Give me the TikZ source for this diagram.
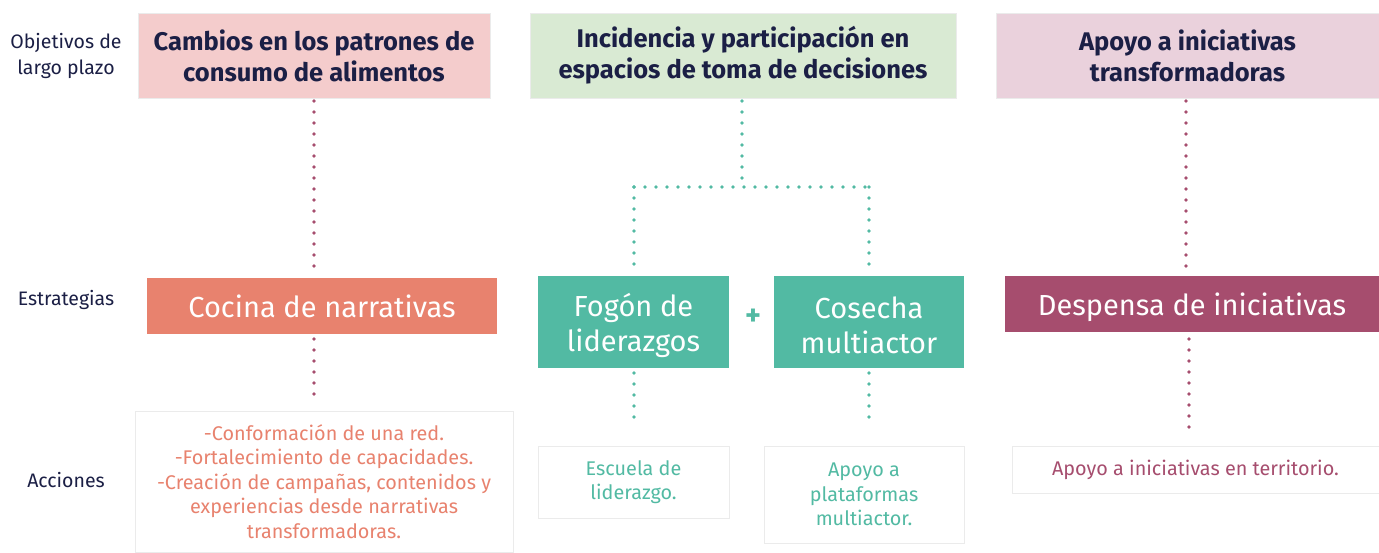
\documentclass[tikz,border=0pt]{standalone}
\usepackage{fontspec}
\setmainfont{Fira Sans}
\definecolor{navy}{HTML}{1B1F45}
\definecolor{pinkbg}{HTML}{F4CCCC}
\definecolor{greenbg}{HTML}{D9EAD3}
\definecolor{mauvebg}{HTML}{EAD1DC}
\definecolor{salmon}{HTML}{E8826E}
\definecolor{teal}{HTML}{52BAA3}
\definecolor{mauve}{HTML}{A64D6E}
\definecolor{graybd}{HTML}{EBEBEB}
\begin{document}
\begin{tikzpicture}[x=1pt,y=-1pt,
  objbox/.style={rectangle,inner sep=0pt,align=center,text=navy,font=\fontsize{25.5}{31}\selectfont\bfseries,draw=white!92!black,line width=0.6pt},
  stratbox/.style={rectangle,inner sep=0pt,minimum height=56pt},
  strattext/.style={inner sep=0pt,align=center,text=white,font=\fontsize{29}{35}\selectfont},
  actbox/.style={rectangle,inner sep=0pt,align=center,fill=white,draw=graybd,line width=0.8pt,font=\fontsize{19.8}{24.5}\selectfont},
  sidelbl/.style={align=center,text=navy,font=\fontsize{19.5}{26}\selectfont},
  dotline/.style={line width=3.8pt,line cap=round,dash pattern=on 0pt off 11pt}
]
\useasboundingbox (0,0) rectangle (1379,552);
\fill[white] (0,0) rectangle (1379,552);

% side labels
\node[sidelbl] (l1) at (66,56) {Objetivos de\\largo plazo};
\node[sidelbl] (l2) at (66,300) {Estrategias};
\node[sidelbl] (l3) at (66,480) {Acciones};

% objectives
\node[objbox,fill=pinkbg,minimum width=352pt,minimum height=85pt] (o1) at (314,55.5) {Cambios en los patrones de\\consumo de alimentos};
\node[objbox,fill=greenbg,minimum width=426pt,minimum height=85pt] (o2) at (743,55.5) {Incidencia y participación en\\espacios de toma de decisiones};
\node[objbox,fill=mauvebg,minimum width=383pt,minimum height=85pt] (o3) at (1187.5,55.5) {Apoyo a iniciativas\\transformadoras};

% strategies
\node[stratbox,fill=salmon,minimum width=350pt,label={[strattext]center:Cocina de narrativas}] (s1) at (322,306) {};
\node[stratbox,fill=teal,minimum width=191pt,minimum height=92pt,label={[strattext,yshift=-3pt]center:{Fogón de\\liderazgos}}] (s2) at (633.5,322) {};
\node[stratbox,fill=teal,minimum width=190pt,minimum height=92pt,label={[strattext,yshift=-3pt]center:{Cosecha\\multiactor}}] (s3) at (869,322) {};
\node[stratbox,fill=mauve,minimum width=374pt,label={[strattext,yshift=-3pt]center:Despensa de iniciativas}] (s4) at (1192,304) {};
\node[text=teal,font=\fontsize{30}{30}\selectfont\bfseries] (plus) at (753,317) {+};

% actions
\node[actbox,text=salmon,minimum width=378pt,minimum height=141pt] (a1) at (324,481.5) {-Conformación de una red.\\-Fortalecimiento de capacidades.\\-Creación de campañas, contenidos y\\experiencias desde narrativas\\transformadoras.};
\node[actbox,text=teal,minimum width=191pt,minimum height=72pt] (a2) at (633.5,482) {Escuela de\\liderazgo.};
\node[actbox,text=teal,minimum width=200pt,minimum height=97pt] (a3) at (864,494.5) {Apoyo a\\plataformas\\multiactor.};
\node[actbox,text=mauve,minimum width=367pt,minimum height=47pt] (a4) at (1195.5,469.5) {Apoyo a iniciativas en territorio.};

% connectors
\coordinate (c1a) at (314,101);
\coordinate (c1b) at (314,272);
\draw[dotline,mauve] (c1a) -- (c1b);
\draw[dotline,mauve] (314,339) -- (314,405);

\coordinate (j0) at (742,101);
\coordinate (j1) at (742,187);
\coordinate (jl) at (634,187);
\coordinate (jr) at (869,187);
\draw[dotline,teal] (j0) -- (j1);
\draw[dotline,teal] (jl) -- (jr);
\draw[dotline,teal] (jl) -- (634,272);
\draw[dotline,teal] (jr) -- (869,272);
\draw[dotline,teal] (634,373) -- (634,425);
\draw[dotline,teal] (869,373) -- (869,428);

\draw[dotline,mauve] (1186,101) -- (1186,272);
\draw[dotline,mauve] (1189,339) -- (1189,428);
\end{tikzpicture}
\end{document}
